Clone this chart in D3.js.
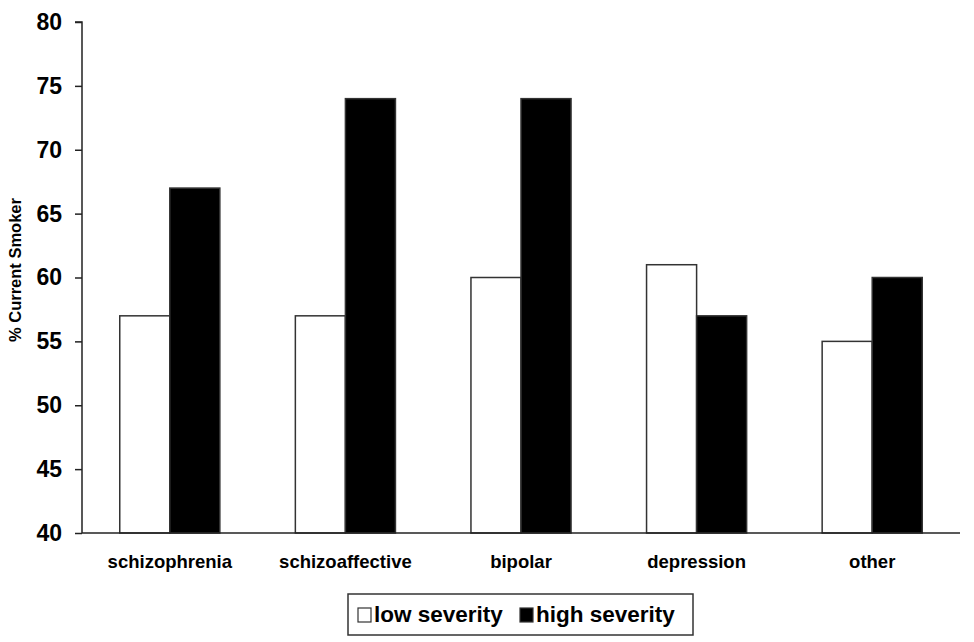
<!DOCTYPE html>
<html><head><meta charset="utf-8">
<script src="https://cdn.jsdelivr.net/npm/d3@7"></script>
<style>body{margin:0;background:#fff}svg{display:block}</style>
</head><body>
<script>
const categories = ["schizophrenia","schizoaffective","bipolar","depression","other"];
const series = ["low severity","high severity"];
const lowSeverity = [57,57,60,61,55];
const highSeverity = [67,74,74,57,60];
const yTicks = [40,45,50,55,60,65,70,75,80];
const seriesFill = ["#ffffff","#000000"];

const W=974,H=642;
const svg=d3.select("body").append("svg").attr("width",W).attr("height",H);
const font="Arial, 'Liberation Sans', sans-serif";
const x0=82,x1=960,yTop=22,yBot=533;
const x=d3.scaleBand().domain(categories).range([x0,x1]).paddingInner(0.43).paddingOuter(0.215);
const xs=d3.scaleBand().domain(series).range([0,x.bandwidth()]);
const y=d3.scaleLinear().domain([40,80]).range([yBot,yTop]);
const vals=[lowSeverity,highSeverity];

const g=svg.append("g");
categories.forEach((c,i)=>{
  series.forEach((s,j)=>{
    const v=vals[j][i];
    g.append("rect").attr("x",x(c)+xs(s)).attr("y",y(v))
      .attr("width",xs.bandwidth()).attr("height",y(40)-y(v))
      .attr("fill",seriesFill[j]).attr("stroke","#333").attr("stroke-width",1.5);
  });
});

const ya=svg.append("g").attr("transform",`translate(${x0},0)`)
  .call(d3.axisLeft(y).tickValues(yTicks).tickSize(7).tickPadding(13));
ya.select(".domain").attr("stroke","#222").attr("stroke-width",1.5).attr("d",`M-7,${y(80)}H0V${y(40)}`);
ya.selectAll(".tick line").attr("stroke","#222").attr("stroke-width",1.5);
ya.selectAll(".tick text").attr("font-family",font).attr("font-weight","bold").attr("font-size",23).attr("fill","#000");

const xa=svg.append("g").attr("transform",`translate(0,${yBot})`)
  .call(d3.axisBottom(x).tickSize(0).tickPadding(22));
xa.select(".domain").attr("stroke","#222").attr("stroke-width",1.5).attr("d",`M${x0},0H${x1}`);
xa.selectAll(".tick text").attr("font-family",font).attr("font-weight","bold").attr("font-size",18.5).attr("fill","#000");

svg.append("text").attr("transform",`translate(21,270) rotate(-90)`)
  .attr("text-anchor","middle").attr("font-family",font).attr("font-weight","bold")
  .attr("font-size",16.5).text("% Current Smoker");

// legend
const lg=svg.append("g");
lg.append("rect").attr("x",348).attr("y",594).attr("width",345).attr("height",41)
  .attr("fill","#fff").attr("stroke","#333").attr("stroke-width",1.5);
const items=[{s:series[0],sx:358,tx:374},{s:series[1],sx:520,tx:536}];
items.forEach((it,j)=>{
  lg.append("rect").attr("x",it.sx).attr("y",608).attr("width",13).attr("height",14)
    .attr("fill",seriesFill[j]).attr("stroke","#333").attr("stroke-width",1.2);
  lg.append("text").attr("x",it.tx).attr("y",622).attr("font-family",font).attr("font-weight","bold")
    .attr("font-size",22.5).text(it.s);
});
</script>
</body></html>
